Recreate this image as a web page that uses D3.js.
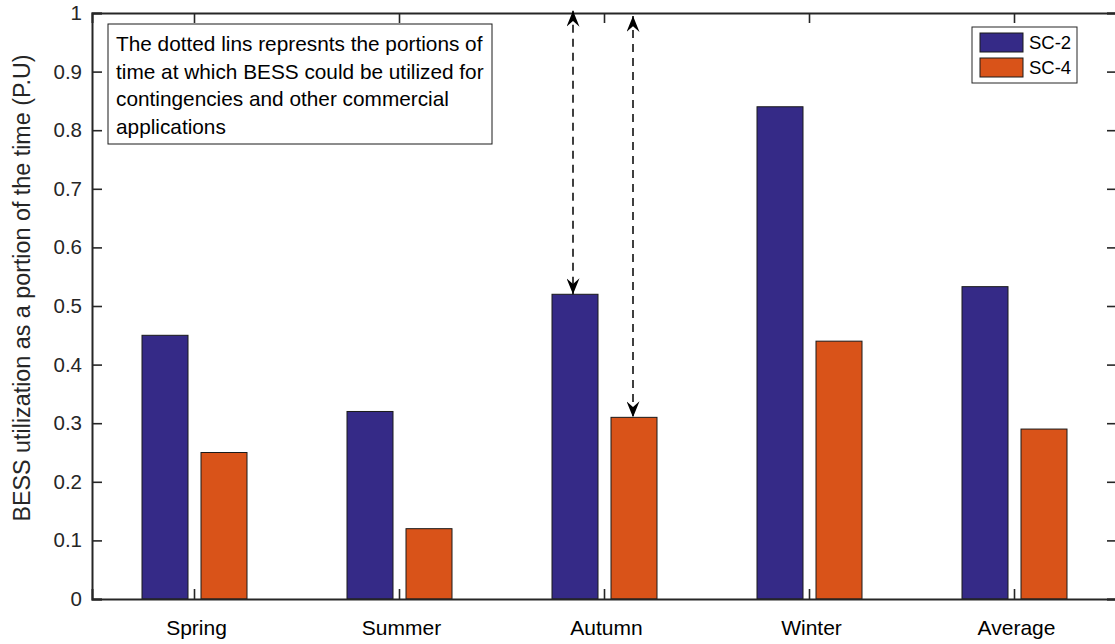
<!DOCTYPE html>
<html>
<head>
<meta charset="utf-8">
<script src="https://cdn.jsdelivr.net/npm/d3@7"></script>
<style>
  html, body { margin: 0; padding: 0; background: #fff; }
  svg { display: block; font-family: "Liberation Sans", Arial, Helvetica, sans-serif; }
</style>
</head>
<body>
<svg id="chart" width="1115" height="644"></svg>
<script>
// Seasonal BESS utilisation for two scenarios
const categories = ["Spring", "Summer", "Autumn", "Winter", "Average"];
const seriesNames = ["SC-2", "SC-4"];
const sc2 = [0.45, 0.32, 0.52, 0.84, 0.533];
const sc4 = [0.25, 0.12, 0.31, 0.44, 0.29];
const yTicks = [0, 0.1, 0.2, 0.3, 0.4, 0.5, 0.6, 0.7, 0.8, 0.9, 1];
const colors = ["#352a87", "#d95319"];
const noteLines = [
  "The dotted lins represnts the portions of",
  "time at which BESS could be utilized for",
  "contingencies and other commercial",
  "applications"
];
// double-headed dashed arrows over Autumn: [category, series, top value]
const arrows = [
  { cat: "Autumn", series: 0, top: 1.004 },
  { cat: "Autumn", series: 1, top: 0.995 }
];

const svg = d3.select("#chart");
const m = { left: 92, top: 13, right: 1117, bottom: 599 };
const axisColor = "#262626";

const x = d3.scaleBand().domain(categories).range([m.left, m.right]);
const y = d3.scaleLinear().domain([0, 1]).range([m.bottom, m.top]);
const barW = 46, offset = 29.5;
const barX = (cat, s) => x(cat) + x.bandwidth() / 2 + (s === 0 ? -offset : offset);

// bars
const series = [sc2, sc4];
series.forEach((vals, s) => {
  svg.append("g").selectAll("rect").data(categories).join("rect")
    .attr("x", d => barX(d, s) - barW / 2)
    .attr("y", (d, i) => y(vals[i]))
    .attr("width", barW)
    .attr("height", (d, i) => y(0) - y(vals[i]))
    .attr("fill", colors[s])
    .attr("stroke", "#1a1a1a")
    .attr("stroke-width", 1);
});

// axes box
const axL = d3.axisLeft(y).tickValues(yTicks).tickFormat(d3.format("~g")).tickSize(-10).tickPadding(10);
const gL = svg.append("g").attr("transform", `translate(${m.left},0)`).call(axL);
const axR = d3.axisRight(y).tickValues(yTicks).tickSize(-10).tickFormat("");
const gR = svg.append("g").attr("transform", `translate(${m.right},0)`).call(axR);
const axB = d3.axisBottom(x).tickSize(-10).tickFormat("");
const gB = svg.append("g").attr("transform", `translate(0,${m.bottom})`).call(axB);
const axT = d3.axisTop(x).tickSize(-10).tickFormat("");
const gT = svg.append("g").attr("transform", `translate(0,${m.top})`).call(axT);
[gL, gR, gB, gT].forEach(g => {
  g.selectAll(".domain").attr("stroke", axisColor).attr("stroke-width", 2);
  g.selectAll(".tick line").attr("stroke", axisColor).attr("stroke-width", 1.6);
});
gL.selectAll(".tick text").attr("font-size", 20.5).attr("fill", axisColor)
  .attr("font-family", "'Liberation Sans', Arial, sans-serif");

// category labels
svg.append("g").selectAll("text").data(categories).join("text")
  .attr("x", d => x(d) + x.bandwidth() / 2 + 2)
  .attr("y", 635)
  .attr("text-anchor", "middle")
  .attr("font-size", 21)
  .attr("fill", "#000")
  .text(d => d);

// y axis title
svg.append("text")
  .attr("transform", `translate(30,${(m.top + m.bottom) / 2 - 18}) rotate(-90)`)
  .attr("text-anchor", "middle")
  .attr("font-size", 23.3)
  .attr("fill", axisColor)
  .text("BESS utilization as a portion of the time (P.U)");

// arrowhead marker
const defs = svg.append("defs");
defs.append("marker")
  .attr("id", "ah").attr("viewBox", "0 0 10 10").attr("refX", 10).attr("refY", 5)
  .attr("markerWidth", 16).attr("markerHeight", 13).attr("markerUnits", "userSpaceOnUse")
  .attr("preserveAspectRatio", "none")
  .attr("orient", "auto-start-reverse")
  .append("path").attr("d", "M0,0 L10,5 L0,10 L3.5,5 Z").attr("fill", "#000");

arrows.forEach(a => {
  const vals = series[a.series];
  const i = categories.indexOf(a.cat);
  const ax = barX(a.cat, a.series) - 2 + a.series;
  svg.append("line")
    .attr("x1", ax).attr("x2", ax)
    .attr("y1", y(a.top)).attr("y2", y(vals[i]))
    .attr("stroke", "#000").attr("stroke-width", 1.5)
    .attr("stroke-dasharray", "8,6")
    .attr("marker-start", "url(#ah)")
    .attr("marker-end", "url(#ah)");
});

// note box
const note = svg.append("g");
note.append("rect")
  .attr("x", 108).attr("y", 24).attr("width", 384).attr("height", 120)
  .attr("fill", "#fff").attr("stroke", "#1a1a1a").attr("stroke-width", 1);
note.selectAll("text").data(noteLines).join("text")
  .attr("x", 116)
  .attr("y", (d, i) => 51 + i * 27.5)
  .attr("font-size", 20.8)
  .attr("fill", "#000")
  .text(d => d);

// legend
const leg = svg.append("g");
leg.append("rect")
  .attr("x", 972).attr("y", 27).attr("width", 105).attr("height", 56)
  .attr("fill", "#fff").attr("stroke", "#262626").attr("stroke-width", 1);
seriesNames.forEach((n, s) => {
  leg.append("rect")
    .attr("x", 980).attr("y", 33 + s * 25).attr("width", 43).attr("height", 19)
    .attr("fill", colors[s]).attr("stroke", "#1a1a1a").attr("stroke-width", 1);
  leg.append("text")
    .attr("x", 1029).attr("y", 49 + s * 25)
    .attr("font-size", 18.5).attr("fill", "#000")
    .text(n);
});
</script>
</body>
</html>
